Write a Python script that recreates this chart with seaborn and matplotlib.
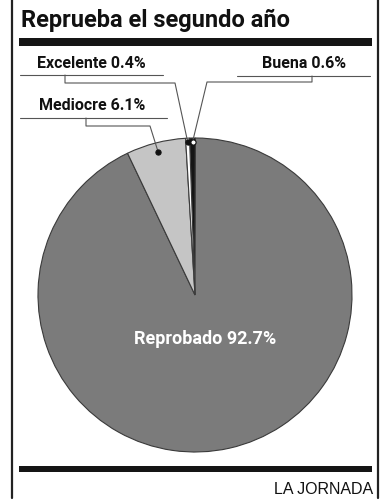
import numpy as np
import matplotlib.pyplot as plt
import seaborn as sns

# data
categories = ['Buena', 'Reprobado', 'Mediocre', 'Excelente']
shares = [0.6, 92.7, 6.1, 0.4]
slice_colors = ['#151515', '#7b7b7b', '#c5c5c5', '#ffffff']
title = 'Reprueba el segundo año'
source = 'LA JORNADA'

W, H = 391, 500
CX, CY, R = 195, 295, 157   # pie centre / radius in pixels

sns.set_theme(style='white')
plt.rcParams['font.family'] = ['Roboto', 'DejaVu Sans']

fig = plt.figure(figsize=(W / 100, H / 100), dpi=100)
fig.patch.set_facecolor('white')

# pie
pie_ax = fig.add_axes([(CX - R) / W, 1 - (CY + R) / H, 2 * R / W, 2 * R / H])
wedges, _ = pie_ax.pie(shares, colors=slice_colors, startangle=92, counterclock=False,
                       wedgeprops=dict(edgecolor='#3a3a3a', linewidth=0.8))
pie_ax.set_xlim(-1, 1)
pie_ax.set_ylim(-1, 1)

# overlay in pixel coordinates for the frame, bars and leaders
deco = fig.add_axes([0, 0, 1, 1], zorder=3)
deco.set_xlim(0, W)
deco.set_ylim(H, 0)
deco.patch.set_alpha(0)
deco.axis('off')

deco.plot([12, 12], [0, 498], color='#222222', lw=1.6)
deco.plot([378, 378], [0, 498], color='#222222', lw=1.6)
deco.fill_between([19, 372], 38, 46, color='#151515', lw=0)
deco.fill_between([19, 372], 466, 472, color='#151515', lw=0)

deco.text(21, 20, title, fontsize=17, fontweight='bold', color='#111111',
          ha='left', va='center')
deco.text(373, 489, source, fontsize=11.5, family=['Liberation Sans', 'DejaVu Sans'],
          color='#111111', ha='right', va='center')


def mid_point(i, rr):
    w = wedges[i]
    t = np.deg2rad((w.theta1 + w.theta2) / 2)
    return CX + rr * R * np.cos(t), CY - rr * R * np.sin(t)


# label layout: text pos, underline, bracket, dot
labels = {
    'Excelente': dict(txt=(37, 63, 'left'), under=(20, 163, 75), drop=(65, 83), turn=175,
                      rr=0.975, face='#111111'),
    'Mediocre': dict(txt=(39, 106, 'left'), under=(20, 167, 118), drop=(86, 126), turn=150,
                     rr=0.94, face='#111111'),
    'Buena': dict(txt=(346, 63, 'right'), under=(237, 370, 76), drop=(312, 82), turn=207,
                  rr=0.975, face='white'),
}

for name, cfg in labels.items():
    i = categories.index(name)
    x, y, ha = cfg['txt']
    deco.text(x, y, f'{name} {shares[i]}%', fontsize=11.5, fontweight='bold',
              color='#111111', ha=ha, va='center')
    x0, x1, yu = cfg['under']
    deco.plot([x0, x1], [yu, yu], color='#555555', lw=0.8)
    dx, dy = cfg['drop']
    px, py = mid_point(i, cfg['rr'])
    deco.plot([dx, dx, cfg['turn'], px], [yu, dy, dy, py], color='#555555', lw=0.8)
    deco.scatter([px], [py], s=14, color=cfg['face'], edgecolors='#111111', linewidths=0.8, zorder=4)

# big slice label
i = categories.index('Reprobado')
w = wedges[i]
t = np.deg2rad((w.theta1 + w.theta2) / 2)
pie_ax.text(0.29 * np.cos(t), 0.29 * np.sin(t), f'Reprobado {shares[i]}%',
            fontsize=13, fontweight='bold', color='white', ha='center', va='center')

fig.savefig('out.png', dpi=100)
